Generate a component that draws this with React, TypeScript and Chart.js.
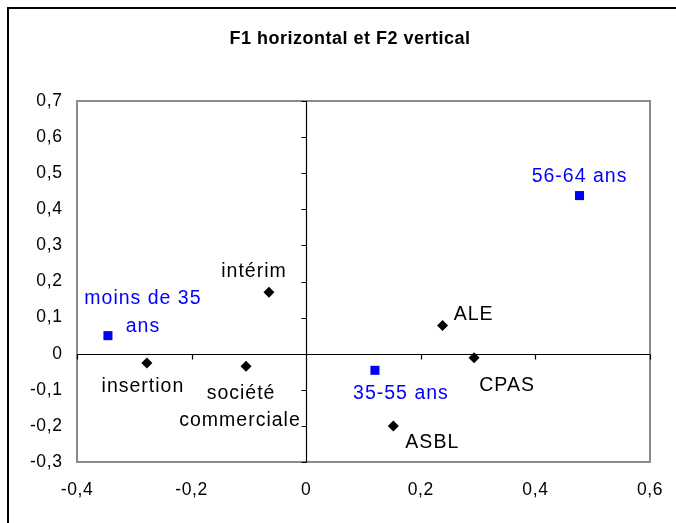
import React, { useEffect, useRef } from "react";
import { Chart, registerables } from "chart.js";

Chart.register(...registerables);

// ---- data ----
const titleText = "F1 horizontal et F2 vertical";

const ageNames = ["moins de 35 ans", "35-55 ans", "56-64 ans"];
const ageLines = [["moins de 35", "ans"], ["35-55 ans"], ["56-64 ans"]];
const ageF1 = [-0.346, 0.12, 0.477];
const ageF2 = [0.05, -0.046, 0.438];

const sectorNames = ["insertion", "société commerciale", "intérim", "ALE", "CPAS", "ASBL"];
const sectorLines = [["insertion"], ["société", "commerciale"], ["intérim"], ["ALE"], ["CPAS"], ["ASBL"]];
const sectorF1 = [-0.278, -0.105, -0.065, 0.238, 0.293, 0.152];
const sectorF2 = [-0.026, -0.035, 0.17, 0.078, -0.011, -0.2];

const xMin = -0.4, xMax = 0.6, xStep = 0.2;
const yMin = -0.3, yMax = 0.7, yStep = 0.1;

// ---- label styling (pixel offsets from the marker, per line baseline) ----
const ageLabelOffsets = [
  [[35, -31.7], [35, -4]],
  [[26, 28.6]],
  [[0, -13.3]],
];
const sectorLabelOffsets = [
  [[-4, 29.4]],
  [[-5, 32.6], [-6, 60]],
  [[-15, -15.4]],
  [[31, -6]],
  [[33, 33.7]],
  [[39, 22.5]],
];

const FONT = "'Liberation Sans', Arial, sans-serif";
const BLUE = "#0000ff";

const fmt = (v: number) => {
  const r = Math.round(v * 10) / 10;
  if (Math.abs(r) < 1e-9) return "0";
  return r.toFixed(1).replace(".", ",");
};

export default function App() {
  const ref = useRef<HTMLCanvasElement | null>(null);

  useEffect(() => {
    document.body.style.margin = "0";
    const canvas = ref.current;
    if (!canvas) return;

    const decor = {
      id: "decor",
      beforeDraw(chart: any) {
        const ctx = chart.ctx as any;
        ctx.save();
        ctx.fillStyle = "#ffffff";
        ctx.fillRect(0, 0, chart.width, chart.height);
        ctx.restore();
        ctx.letterSpacing = "0.6px";
      },
      beforeDatasetsDraw(chart: any) {
        const ctx = chart.ctx as any;
        const a = chart.chartArea;
        const xs = chart.scales.x;
        const ys = chart.scales.y;
        ctx.save();
        // plot area border
        ctx.strokeStyle = "#8a8a8a";
        ctx.lineWidth = 2;
        ctx.strokeRect(a.left, a.top, a.right - a.left, a.bottom - a.top);
        // axes through zero
        const x0 = Math.round(xs.getPixelForValue(0)) + 0.5;
        const y0 = Math.round(ys.getPixelForValue(0)) + 0.5;
        ctx.strokeStyle = "#000000";
        ctx.lineWidth = 1.2;
        ctx.beginPath();
        ctx.moveTo(a.left, y0);
        ctx.lineTo(a.right, y0);
        ctx.moveTo(x0, a.top);
        ctx.lineTo(x0, a.bottom);
        // tick marks
        xs.ticks.forEach((t: any) => {
          const px = Math.round(xs.getPixelForValue(t.value)) + 0.5;
          ctx.moveTo(px, y0);
          ctx.lineTo(px, y0 + 5);
        });
        ys.ticks.forEach((t: any) => {
          const py = Math.round(ys.getPixelForValue(t.value)) + 0.5;
          ctx.moveTo(x0, py);
          ctx.lineTo(x0 - 5, py);
        });
        ctx.stroke();
        ctx.restore();
      },
      afterDraw(chart: any) {
        const ctx = chart.ctx as any;
        const xs = chart.scales.x;
        const ys = chart.scales.y;
        ctx.save();
        // outer frame
        ctx.fillStyle = "#000000";
        ctx.fillRect(7, 7, chart.width - 7, 2);
        ctx.fillRect(7, 7, 2, chart.height - 7);
        // title
        ctx.letterSpacing = "0.5px";
        ctx.font = `bold 18px ${FONT}`;
        ctx.textAlign = "center";
        ctx.textBaseline = "alphabetic";
        ctx.fillText(titleText, 350, 44);
        // point labels
        ctx.letterSpacing = "1px";
        ctx.font = `19.5px ${FONT}`;
        const drawLabels = (lines: string[][], xsv: number[], ysv: number[], offs: number[][][], color: string) => {
          ctx.fillStyle = color;
          lines.forEach((ls, i) => {
            const px = xs.getPixelForValue(xsv[i]);
            const py = ys.getPixelForValue(ysv[i]);
            ls.forEach((line, j) => {
              const [dx, dy] = offs[i][j];
              ctx.fillText(line, px + dx, py + dy);
            });
          });
        };
        drawLabels(ageLines, ageF1, ageF2, ageLabelOffsets, BLUE);
        drawLabels(sectorLines, sectorF1, sectorF2, sectorLabelOffsets, "#000000");
        ctx.restore();
      },
    };

    const chart = new Chart(canvas, {
      type: "scatter",
      data: {
        datasets: [
          {
            label: "Âge",
            data: ageF1.map((x, i) => ({ x, y: ageF2[i] })),
            pointStyle: "rect",
            pointRadius: 6.4,
            backgroundColor: BLUE,
            borderColor: BLUE,
            borderWidth: 0,
          },
          {
            label: "Secteur",
            data: sectorF1.map((x, i) => ({ x, y: sectorF2[i] })),
            pointStyle: "rectRot",
            pointRadius: 5.5,
            backgroundColor: "#000000",
            borderColor: "#000000",
            borderWidth: 0,
          },
        ],
      },
      options: {
        responsive: false,
        animation: false,
        devicePixelRatio: 1,
        layout: { padding: { left: 0, right: 26, top: 101, bottom: 0 } },
        plugins: {
          legend: { display: false },
          tooltip: { enabled: false },
          title: { display: false },
        },
        scales: {
          x: {
            type: "linear",
            min: xMin,
            max: xMax,
            afterFit: (s: any) => {
              s.height = 61;
              s.paddingLeft = 0;
              s.paddingRight = 0;
            },
            grid: { display: false, drawTicks: false },
            border: { display: false },
            ticks: {
              stepSize: xStep,
              padding: 18,
              color: "#000000",
              font: { family: FONT, size: 17.5 },
              callback: (v: any) => fmt(Number(v)),
              maxRotation: 0,
            },
          },
          y: {
            type: "linear",
            min: yMin,
            max: yMax,
            afterFit: (s: any) => {
              s.width = 77;
              s.paddingTop = 0;
              s.paddingBottom = 0;
            },
            grid: { display: false, drawTicks: false },
            border: { display: false },
            ticks: {
              stepSize: yStep,
              padding: 14.5,
              color: "#000000",
              font: { family: FONT, size: 17.5 },
              callback: (v: any) => fmt(Number(v)),
            },
          },
        },
      },
      plugins: [decor],
    });

    return () => chart.destroy();
  }, []);

  return (
    <div style={{ width: 676, height: 523 }}>
      <canvas ref={ref} width={676} height={523} style={{ display: "block", width: 676, height: 523 }} />
    </div>
  );
}
